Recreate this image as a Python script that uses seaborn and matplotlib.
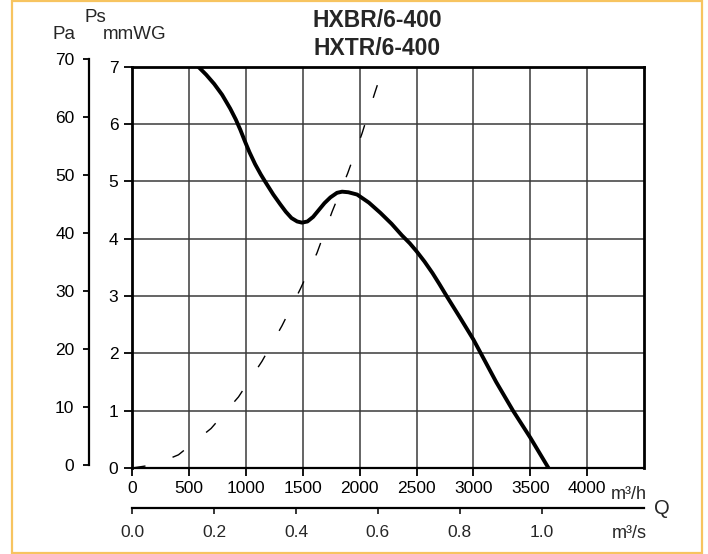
import matplotlib.pyplot as plt
import matplotlib.patches as mpatches
import pandas as pd
import seaborn as sns

# fan curve, Q in m3/h vs static pressure in mmWG
flow_m3h = [580, 650, 720, 790, 861, 910, 950, 990, 1030, 1080, 1130, 1170, 1240, 1301,
            1350, 1400, 1450, 1492, 1540, 1590, 1640, 1690, 1742, 1800, 1845, 1900,
            1977, 2080, 2182, 2280, 2370, 2440, 2500, 2570, 2640, 2700, 2770, 2880,
            3000, 3057, 3200, 3348, 3500, 3660]
press_mmwg = [7.0, 6.86, 6.70, 6.51, 6.27, 6.08, 5.9, 5.7, 5.51, 5.3, 5.12, 4.99, 4.77, 4.6,
              4.47, 4.36, 4.3, 4.28, 4.3, 4.38, 4.5, 4.62, 4.72, 4.8, 4.82, 4.81,
              4.77, 4.63, 4.45, 4.26, 4.06, 3.92, 3.78, 3.60, 3.40, 3.21, 2.98, 2.63,
              2.24, 2.03, 1.5, 1.0, 0.53, 0.0]

# system curve (dashed)
sys_m3h = [0, 200, 406, 693, 934, 1140, 1316, 1477, 1624, 1757, 1894, 2021, 2132, 2200]
sys_mmwg = [0, 0.06, 0.23, 0.69, 1.24, 1.86, 2.48, 3.12, 3.75, 4.47, 5.14, 5.84, 6.54, 6.95]

q_ticks = [0, 500, 1000, 1500, 2000, 2500, 3000, 3500, 4000]
qs_ticks = [0.0, 0.2, 0.4, 0.6, 0.8, 1.0]
qs_labels = ["0.0", "0.2", "0.4", "0.6", "0.8", "1.0"]
mmwg_ticks = [0, 1, 2, 3, 4, 5, 6, 7]
pa_ticks = [0, 10, 20, 30, 40, 50, 60, 70]

sns.set_theme(style="white")
plt.rcParams["font.family"] = ["Liberation Sans", "DejaVu Sans"]

W, H = 708, 554
fig = plt.figure(figsize=(W / 100, H / 100), dpi=100)

def fx(px):
    return px / W

def fy(py):
    return 1 - py / H

ax = fig.add_axes([fx(132.3), fy(468), fx(644) - fx(132.3), fy(66.7) - fy(468)])

fan = pd.DataFrame({"q": flow_m3h, "ps": press_mmwg})
sysc = pd.DataFrame({"q": sys_m3h, "ps": sys_mmwg})

sns.lineplot(data=sysc, x="q", y="ps", sort=False, ax=ax, color="black",
             lw=1.0, linestyle=(0, (9.6, 20.6)), zorder=3)
sns.lineplot(data=fan, x="q", y="ps", sort=False, ax=ax, color="black",
             lw=2.8, zorder=4, solid_joinstyle="round")

ax.set_xlim(0, 4500)
ax.set_ylim(0, 7)
ax.set_xticks(q_ticks)
ax.set_yticks(mmwg_ticks)
ax.set_xlabel("")
ax.set_ylabel("")
ax.grid(True, color="#3a3a3a", lw=1.1)
ax.tick_params(axis="both", direction="out", length=5.5, width=1.3, colors="black",
               labelsize=12.5, bottom=True, left=True)
ax.tick_params(axis="x", pad=4)
ax.tick_params(axis="y", pad=4.5)
for side in ["top", "right", "left"]:
    ax.spines[side].set_color("black")
    ax.spines[side].set_linewidth(2.0)
ax.spines["bottom"].set_color("black")
ax.spines["bottom"].set_linewidth(1.6)

# second flow axis in m3/s
sec = ax.secondary_xaxis((468 - 508) / (468 - 66.7),
                         functions=(lambda q: q / 3600, lambda q: q * 3600))
sec.set_xticks(qs_ticks)
sec.set_xticklabels(qs_labels)
sec.tick_params(direction="out", length=4.5, width=1.3, labelsize=12.5, pad=7.5)
sec.spines["bottom"].set_linewidth(1.6)
sec.spines["bottom"].set_color("black")

# Pa axis
ax_pa = fig.add_axes([fx(89), fy(465), 0.02, fy(59) - fy(465)])
ax_pa.set_ylim(0, 70)
ax_pa.set_yticks(pa_ticks)
ax_pa.set_xticks([])
ax_pa.patch.set_visible(False)
for side in ["top", "right", "bottom"]:
    ax_pa.spines[side].set_visible(False)
ax_pa.spines["left"].set_color("black")
ax_pa.spines["left"].set_linewidth(1.6)
ax_pa.tick_params(axis="y", direction="out", length=4.5, width=1.3, labelsize=12.5,
                  pad=6, left=True, colors="black")

# labels
fig.text(fx(377.5), fy(26.7), "HXBR/6-400", ha="center", va="baseline",
         fontsize=16.5, fontweight="bold")
fig.text(fx(377.5), fy(55), "HXTR/6-400", ha="center", va="baseline",
         fontsize=16.5, fontweight="bold")
fig.text(fx(64.5), fy(39), "Pa", ha="center", va="baseline", fontsize=13.5)
fig.text(fx(95), fy(22), "Ps", ha="center", va="baseline", fontsize=13.5)
fig.text(fx(135), fy(39), "mmWG", ha="center", va="baseline", fontsize=13.5)
fig.text(fx(629), fy(499), "m³/h", ha="center", va="baseline", fontsize=13)
fig.text(fx(661.5), fy(514), "Q", ha="center", va="baseline", fontsize=14.5)
fig.text(fx(629), fy(538), "m³/s", ha="center", va="baseline", fontsize=13)

# yellow frame
fig.patches.append(mpatches.Rectangle((fx(11.5), fy(553)), fx(702) - fx(11.5),
                                      fy(0.8) - fy(553), transform=fig.transFigure,
                                      fill=False, edgecolor="#F7C460", lw=1.6))

fig.savefig("out.png", dpi=100)
